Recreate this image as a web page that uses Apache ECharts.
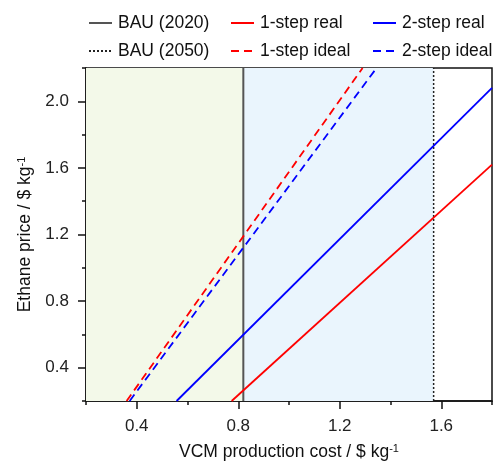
<!DOCTYPE html>
<html>
<head>
<meta charset="utf-8">
<script src="https://cdn.jsdelivr.net/npm/echarts@6/dist/echarts.min.js"></script>
<style>
  html, body { margin: 0; padding: 0; background: #fff; }
  #chart { width: 497px; height: 466px; }
</style>
</head>
<body>
<div id="chart"></div>
<script>
// reference cost levels (VCM production cost, $/kg)
var bau2020 = 0.82;
var bau2050 = 1.57;

// each line: [VCM cost, ethane price] end points
var oneStepReal = [[0.774, 0.2], [1.8, 1.62]];
var twoStepReal = [[0.557, 0.2], [1.8, 2.08]];
var oneStepIdeal = [[0.36, 0.2], [1.29, 2.2]];
var twoStepIdeal = [[0.372, 0.2], [1.345, 2.2]];

var xTickLabels = [0.4, 0.8, 1.2, 1.6];
var yTickLabels = [0.4, 0.8, 1.2, 1.6, 2.0];

var font = 'Arial, "Liberation Sans", sans-serif';

var myChart = echarts.init(document.getElementById('chart'));

function vline(x) {
  return [[x, 0.2], [x, 2.2]];
}

// legend columns, no marker dot, just the line
function legendCol(left, names) {
  return {
    orient: 'vertical', left: left, top: 14, itemGap: 10, padding: 0,
    itemWidth: 23, itemHeight: 2,
    itemStyle: { color: 'transparent', borderColor: 'transparent', borderWidth: 0 },
    textStyle: { fontSize: 17.5, color: '#111', fontFamily: font, padding: [0, 0, 0, 1] },
    data: names
  };
}

var nameStyle = {
  fontSize: 17.5, color: '#111',
  rich: {
    a: { fontSize: 17.5, fontFamily: font, color: '#111' },
    s: { fontSize: 11, verticalAlign: 'top', fontFamily: font, color: '#111' }
  }
};

var option = {
  animation: false,
  textStyle: { fontFamily: font },
  legend: [
    legendCol(88, ['BAU (2020)', 'BAU (2050)']),
    legendCol(230, ['1-step real', '1-step ideal']),
    legendCol(372, ['2-step real', '2-step ideal'])
  ],
  grid: {
    left: 86, right: 5, top: 68, bottom: 63,
    show: true, borderColor: '#111', borderWidth: 1.5, backgroundColor: 'transparent'
  },
  xAxis: [
    {
      type: 'value', min: 0.2, max: 1.8, interval: 0.2,
      name: '{a|VCM production cost / $ kg}{s|-1}',
      nameLocation: 'middle', nameGap: 42,
      nameTextStyle: nameStyle,
      axisLine: { lineStyle: { color: '#111', width: 1.5 } },
      axisTick: { show: true, length: 4, lineStyle: { color: '#111', width: 1.5 } },
      axisLabel: {
        fontSize: 17, color: '#222', margin: 17,
        customValues: xTickLabels,
        formatter: function (v) { return v.toFixed(1); }
      },
      splitLine: { show: false }
    },
    {
      type: 'value', min: 0.2, max: 1.8, interval: 0.2, position: 'bottom',
      axisLine: { show: false },
      axisTick: { show: true, length: 8, customValues: xTickLabels, lineStyle: { color: '#111', width: 1.5 } },
      axisLabel: { show: false },
      splitLine: { show: false }
    }
  ],
  yAxis: [
    {
      type: 'value', min: 0.2, max: 2.2, interval: 0.2,
      name: '{a|Ethane price / $ kg}{s|-1}',
      nameLocation: 'middle', nameGap: 51,
      nameTextStyle: nameStyle,
      axisLine: { lineStyle: { color: '#111', width: 1.5 } },
      axisTick: { show: true, length: 4, lineStyle: { color: '#111', width: 1.5 } },
      axisLabel: {
        fontSize: 17, color: '#222', margin: 17,
        customValues: yTickLabels,
        formatter: function (v) { return v.toFixed(1); }
      },
      splitLine: { show: false }
    },
    {
      type: 'value', min: 0.2, max: 2.2, interval: 0.2, position: 'left',
      axisLine: { show: false },
      axisTick: { show: true, length: 8, customValues: yTickLabels, lineStyle: { color: '#111', width: 1.5 } },
      axisLabel: { show: false },
      splitLine: { show: false }
    }
  ],
  series: [
    {
      // shaded regions
      type: 'line', data: [], silent: true, z: 0,
      markArea: {
        silent: true,
        data: [
          [{ xAxis: 0.2, itemStyle: { color: '#f3f9e9' } }, { xAxis: bau2020 }],
          [{ xAxis: bau2020, itemStyle: { color: '#eaf5fd' } }, { xAxis: bau2050 }]
        ]
      }
    },
    {
      name: 'BAU (2020)', type: 'line', data: vline(bau2020), symbol: 'none',
      color: '#555', lineStyle: { color: '#555', width: 2 }
    },
    {
      name: 'BAU (2050)', type: 'line', data: vline(bau2050), symbol: 'none',
      color: '#222', lineStyle: { color: '#222', width: 1.5, type: [2, 2] }
    },
    {
      name: '1-step real', type: 'line', data: oneStepReal, symbol: 'none',
      color: '#ff0000', lineStyle: { color: '#ff0000', width: 1.8 }
    },
    {
      name: '1-step ideal', type: 'line', data: oneStepIdeal, symbol: 'none',
      color: '#ff0000', lineStyle: { color: '#ff0000', width: 1.8, type: [8, 5] }
    },
    {
      name: '2-step real', type: 'line', data: twoStepReal, symbol: 'none',
      color: '#0000ff', lineStyle: { color: '#0000ff', width: 1.8 }
    },
    {
      name: '2-step ideal', type: 'line', data: twoStepIdeal, symbol: 'none',
      color: '#0000ff', lineStyle: { color: '#0000ff', width: 1.8, type: [8, 5] }
    }
  ]
};

myChart.setOption(option);
</script>
</body>
</html>
